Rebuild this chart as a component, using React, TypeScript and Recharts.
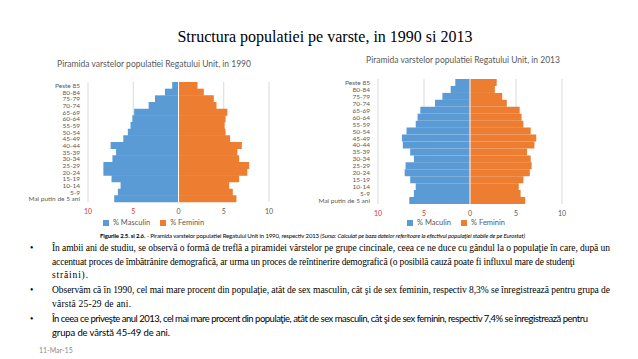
import React from 'react';
import {
  BarChart,
  Bar,
  XAxis,
  YAxis,
  CartesianGrid,
  Legend,
  ReferenceLine } from 'recharts';

const ageGroups = ['Peste 85', '80-84', '75-79', '70-74', '65-69', '60-64', '55-59', '50-54', '45-49',
  '40-44', '35-39', '30-34', '25-29', '20-24', '15-19', '10-14', '5-9', 'Mai putin de 5 ani'];

// male shares are negative so they grow to the left of zero
const male1990 = [-0.7, -1.5, -2.6, -3.3, -4.9, -5.1, -5.3, -5.6, -6.1, -7.5, -6.9, -7.3, -8.3, -8.3, -7.4, -6.4, -6.7, -7.1];
const female1990 = [2.1, 2.8, 3.9, 4.2, 5.4, 5.2, 5.1, 5.2, 5.7, 7.0, 6.5, 6.7, 7.8, 7.6, 6.7, 5.6, 6.0, 6.4];
const male2013 = [-1.6, -2.1, -3.0, -3.8, -5.4, -5.7, -5.9, -6.9, -7.4, -7.3, -6.5, -6.1, -7.0, -7.1, -6.5, -5.9, -6.1, -6.6];
const female2013 = [2.9, 2.7, 3.5, 4.0, 5.4, 5.6, 5.8, 6.6, 7.2, 7.0, 6.2, 6.6, 6.7, 6.5, 5.8, 5.3, 5.5, 6.0];
const xTicks = [-10, -5, 0, 5, 10];

const BLUE = '#5B9BD5';
const ORANGE = '#ED7D31';
const GREY = '#595959';
const SANS = 'Lato, "Open Sans", sans-serif';
const SERIF = '"Liberation Serif", "DejaVu Serif", serif';

const XTick = (props: any) => {
  const { x, y, payload } = props;
  const v = payload.value;
  return (
    <text x={x} y={y} dy={4} textAnchor="middle" fontSize={7} fontFamily={SANS}
      fill={v < 0 ? '#D9342B' : GREY}>
      {Math.abs(v)}
    </text>
  );
};

const YTick = (props: any) => {
  const { x, y, payload } = props;
  return (
    <text x={x} y={y} dy={2.5} textAnchor="end" fontSize={6.5} fontFamily={SANS} fill={GREY}>
      {payload.value}
    </text>
  );
};

type PyramidProps = {
  male: number[];
  female: number[];
  maleName: string;
  left: number;
  top: number;
  width: number;
  marginTop: number;
  marginRight: number;
  marginBottom: number;
  legendTop: number;
  legendLeft: number;
};

const Pyramid = (p: PyramidProps) => {
  const data = ageGroups.map((age, i) => ({ age, male: p.male[i], female: p.female[i] }));
  return (
    <div style={{ position: 'absolute', left: p.left, top: p.top }}>
      <BarChart width={p.width} height={160} data={data} layout="vertical" stackOffset="sign"
        barCategoryGap={0}
        margin={{ top: p.marginTop, right: p.marginRight, bottom: p.marginBottom, left: 0 }}>
        <CartesianGrid horizontal={false} stroke="#D9D9D9" />
        <XAxis type="number" domain={[-10, 10]} ticks={xTicks} axisLine={false} tickLine={false}
          height={14} tick={<XTick />} interval={0} />
        <YAxis type="category" dataKey="age" width={68} axisLine={false} tickLine={false}
          interval={0} tick={<YTick />} />
        <Bar dataKey="male" name={p.maleName} stackId="s" fill={BLUE} isAnimationActive={false} />
        <Bar dataKey="female" name="% Feminin" stackId="s" fill={ORANGE} isAnimationActive={false} />
        <ReferenceLine x={0} stroke="#FFFFFF" strokeWidth={1} />
        <Legend layout="horizontal" verticalAlign="middle" align="center" iconType="square" iconSize={6}
          itemSorter={(item: any) => (item.dataKey === 'male' ? 0 : 1)}
          wrapperStyle={{ top: p.legendTop, left: p.legendLeft, fontSize: 7.5, fontFamily: SANS }}
          formatter={(v: string) => <span style={{ color: GREY }}>{v}</span>} />
      </BarChart>
    </div>
  );
};

const App = () => {
  return (
    <div style={{ position: 'absolute', left: 0, top: 0, width: 638, height: 359, background: '#fff', overflow: 'hidden' }}>
      <div style={{ position: 'absolute', left: 6, width: 638, top: 28, textAlign: 'center', fontFamily: SERIF, fontSize: 16, color: '#000', whiteSpace: 'nowrap' }}>
        Structura populatiei pe varste, in 1990 si 2013
      </div>

      <div style={{ position: 'absolute', left: 54, width: 200, top: 59, textAlign: 'center', fontFamily: SANS, fontSize: 8.5, color: GREY, whiteSpace: 'nowrap' }}>
        Piramida varstelor populatiei Regatului Unit, in 1990
      </div>
      <div style={{ position: 'absolute', left: 363, width: 200, top: 55, textAlign: 'center', fontFamily: SANS, fontSize: 8.5, color: GREY, whiteSpace: 'nowrap' }}>
        Piramida varstelor populatiei Regatului Unit, in 2013
      </div>

      <Pyramid male={male1990} female={female1990} maleName="% Masculin" left={20} top={74} width={260}
        marginTop={8} marginRight={11} marginBottom={18} legendTop={144} legendLeft={14} />
      <Pyramid male={male2013} female={female2013} maleName="% Maculin" left={310} top={70} width={262}
        marginTop={9} marginRight={10} marginBottom={12} legendTop={148} legendLeft={25} />

      <svg width={638} height={359} style={{ position: 'absolute', left: 0, top: 0, pointerEvents: 'none' }}>
        <text x={100} y={237.5} fontFamily={SANS} fontSize={6} fill="#000" textLength={425} lengthAdjust="spacing">
          <tspan fontWeight="bold">Figurile 2.5. si 2.6.</tspan>
          <tspan> - Piramida varstelor populatiei Regatului Unit in 1990, respectiv 2013  </tspan>
          <tspan fontStyle="italic">(Sursa: Calculat pe baza datelor referitoare la efectivul populaţiei stabile de pe Eurostat)</tspan>
        </text>

        <g fontFamily={SERIF} fontSize={9.5} fill="#000">
          <text x={30} y={251.3}>•</text>
          <text x={52} y={251.3} textLength={558} lengthAdjust="spacing">În ambii ani de studiu, se observă o formă de treflă a piramidei vârstelor pe grupe cincinale, ceea ce ne duce cu gândul la o populaţie în care, după un</text>
          <text x={52} y={264.8} textLength={523} lengthAdjust="spacing">accentuat proces de îmbătrânire demografică, ar urma un proces de reîntinerire demografică (o posibilă cauză poate fi influxul mare de studenţi</text>
          <text x={52} y={278.3} textLength={36} lengthAdjust="spacing">străini).</text>

          <text x={30} y={293.3}>•</text>
          <text x={52} y={293.3} textLength={558} lengthAdjust="spacing">Observăm că în 1990, cel mai mare procent din populaţie, atât de sex masculin, cât şi de sex feminin, respectiv 8,3% se înregistrează pentru grupa de</text>
          <text x={52} y={306.8} textLength={79} lengthAdjust="spacing">vârstă 25-29 de ani.</text>

          <text x={30} y={322.3}>•</text>
        </g>
        <g fontFamily={SANS} fontSize={9.5} fill="#000">
          <text x={52} y={322.3} textLength={536} lengthAdjust="spacing">În ceea ce priveşte anul 2013, cel mai mare procent din populaţie, atât de sex masculin, cât şi de sex feminin, respectiv 7,4% se înregistrează pentru</text>
          <text x={52} y={335.8} textLength={118} lengthAdjust="spacing">grupa de vârstă 45-49 de ani.</text>
        </g>

        <text x={39} y={352.5} fontFamily={SANS} fontSize={7} fill="#8C8C8C">11-Mar-15</text>
      </svg>
    </div>
  );
};

export default App;
